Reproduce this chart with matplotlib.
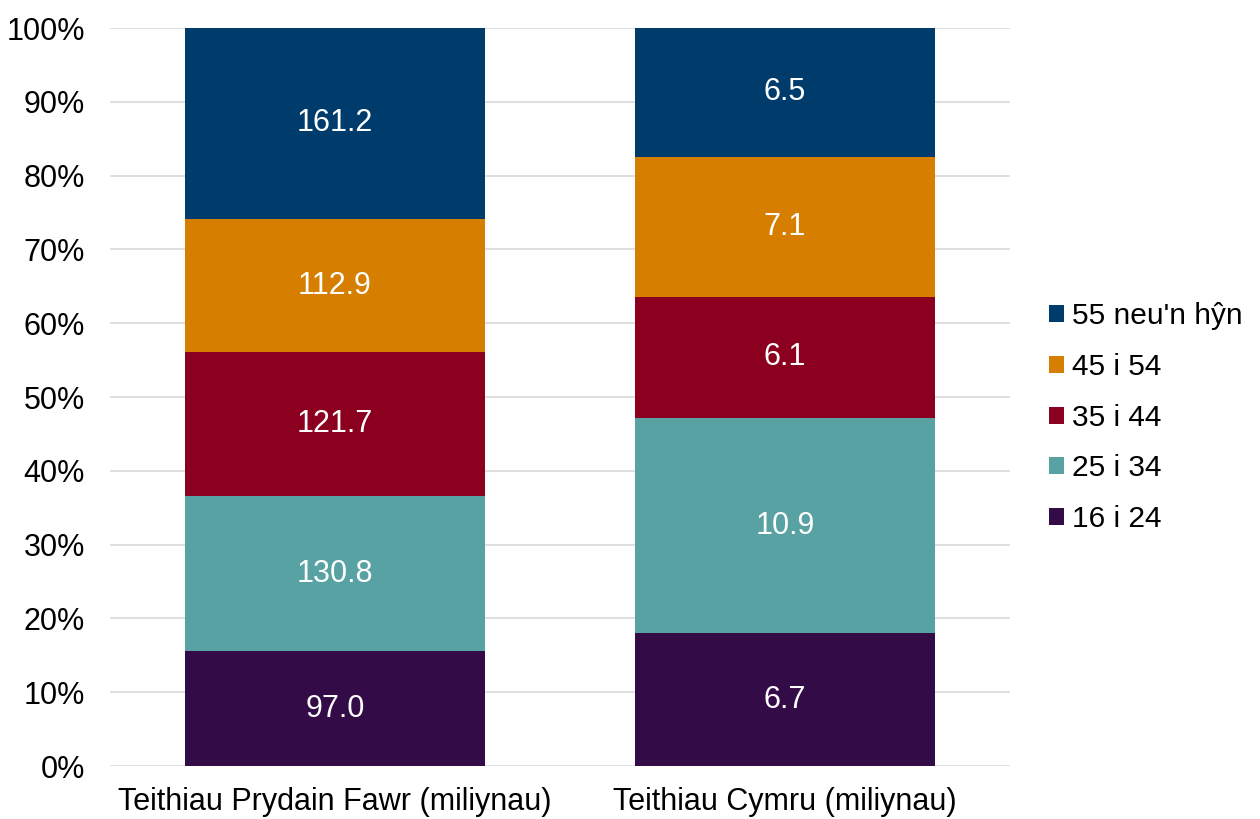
import numpy as np
import matplotlib
matplotlib.use("Agg")
import matplotlib.pyplot as plt
from matplotlib.ticker import PercentFormatter

plt.rcParams["font.family"] = ["Liberation Sans", "DejaVu Sans"]

categories = ["Teithiau Prydain Fawr (miliynau)", "Teithiau Cymru (miliynau)"]
age_groups = ["16 i 24", "25 i 34", "35 i 44", "45 i 54", "55 neu'n hŷn"]
trips_16_24 = [97.0, 6.7]
trips_25_34 = [130.8, 10.9]
trips_35_44 = [121.7, 6.1]
trips_45_54 = [112.9, 7.1]
trips_55_plus = [161.2, 6.5]
colors = ["#330C47", "#58A2A4", "#8A001E", "#D57E00", "#003C6B"]

series = [trips_16_24, trips_25_34, trips_35_44, trips_45_54, trips_55_plus]
values = np.array(series)
totals = values.sum(axis=0)
shares = values / totals * 100

fig = plt.figure(figsize=(12.6, 8.19), dpi=100)
ax = fig.add_axes([0.0873, 0.0647, 0.7143, 0.9011])

x = np.arange(len(categories))
bottom = np.zeros(len(categories))
handles = []
for i, name in enumerate(age_groups):
    bars = ax.bar(x, shares[i], 0.667, bottom=bottom, color=colors[i], label=name, zorder=3)
    handles.append(bars)
    for j in range(len(categories)):
        ax.text(x[j], bottom[j] + shares[i, j] / 2, f"{values[i, j]:.1f}",
                ha="center", va="center", color="white", fontsize=22, zorder=4)
    bottom += shares[i]

ax.set_xlim(-0.5, 1.5)
ax.set_ylim(0, 100)
ax.set_yticks(np.arange(0, 101, 10))
ax.yaxis.set_major_formatter(PercentFormatter(decimals=0))
ax.set_xticks(x)
ax.set_xticklabels(categories)
ax.tick_params(axis="both", length=0, labelsize=22, colors="black")
ax.tick_params(axis="y", pad=18)
ax.tick_params(axis="x", pad=15)
ax.grid(axis="y", color="#D9D9D9", linewidth=1.2, zorder=0)
for s in ax.spines.values():
    s.set_visible(False)

leg = ax.legend(handles[::-1], age_groups[::-1], loc="center left", bbox_to_anchor=(1.014, 0.472),
                frameon=False, fontsize=21.5, handlelength=0.5, handleheight=0.5,
                handletextpad=0.26, labelspacing=0.76)

fig.savefig("out.png", dpi=100)
